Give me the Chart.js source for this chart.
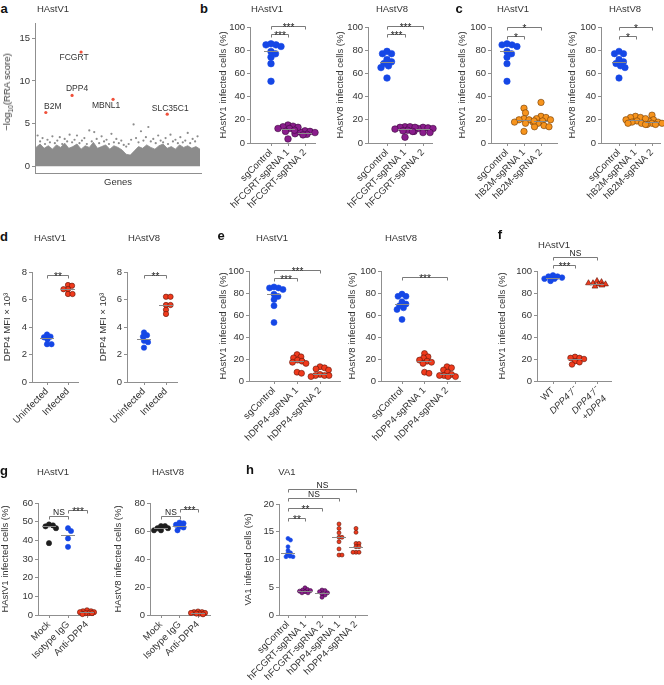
<!DOCTYPE html>
<html>
<head>
<meta charset="utf-8">
<script src="https://cdn.jsdelivr.net/npm/chart.js@4.4.0/dist/chart.umd.min.js"></script>
<style>
body { margin: 0; background: #fff; width: 664px; height: 685px; position: relative; overflow: hidden; font-family: 'Liberation Sans', Arial, sans-serif; color: #333; }
canvas { position: absolute; }
.t { position: absolute; white-space: nowrap; transform: translate(-50%, -50%); font-size: 9.5px; line-height: 10px; z-index: 2; }
.r { transform: translate(-50%, -50%) rotate(-90deg); }
.L { font-weight: bold; font-size: 13px; line-height: 14px; color: #111; }
sub, sup { font-size: 70%; line-height: 0; }
</style>
</head>
<body>
<script>
// --- data ---
const screenX = [0, 2.5, 5, 7.5, 10, 12.5, 15, 17.5, 20, 22.5, 25, 27.5, 30, 32.5, 35, 37.5, 40, 42.5, 45, 47.5, 50, 52.5, 55, 57.5, 60, 62.5, 65, 67.5, 70, 72.5, 75, 77.5, 80, 82.5, 85, 87.5, 90, 92.5, 95, 97.5, 100];
const screenBand = [2.2, 2.6, 2.1, 2.4, 2.0, 2.5, 2.2, 2.7, 2.1, 2.3, 2.6, 2.0, 2.4, 2.2, 2.8, 2.1, 2.3, 2.5, 2.0, 2.4, 2.2, 1.9, 1.4, 1.3, 1.8, 2.3, 2.1, 2.5, 2.2, 2.0, 2.4, 2.6, 2.1, 2.3, 2.0, 2.5, 2.2, 2.4, 2.1, 2.3, 2.0];
const sparseX = [1, 2.5, 4, 5.5, 7, 8.5, 10, 11.5, 13, 14.5, 16, 17.5, 19, 20.5, 22, 23.5, 25, 26.5, 28, 29.5, 31, 32.5, 34, 35.5, 37, 38.5, 40, 41.5, 43, 44.5, 46, 47.5, 49, 50.5, 52, 53.5, 55, 56.5, 58, 59.5, 61, 62.5, 64, 65.5, 67, 68.5, 70, 71.5, 73, 74.5, 76, 77.5, 79, 80.5, 82, 83.5, 85, 86.5, 88, 89.5, 91, 92.5, 94, 95.5, 97, 98.5];
const sparseY = [3.6, 2.9, 3.3, 2.6, 3.1, 2.8, 3.5, 2.7, 3.0, 3.4, 2.6, 3.2, 2.9, 3.7, 2.8, 3.1, 3.6, 2.7, 3.0, 3.3, 2.6, 4.2, 2.9, 4.0, 3.2, 2.7, 3.5, 2.9, 3.1, 2.6, 3.8, 2.8, 3.2, 2.7, 3.0, 2.5, 2.3, 2.6, 3.1, 4.9, 3.3, 2.8, 4.1, 3.0, 3.4, 4.6, 2.9, 3.2, 2.7, 3.6, 3.0, 2.8, 3.3, 2.6, 3.7, 2.9, 3.1, 2.7, 3.4, 2.8, 3.0, 3.9, 2.7, 3.2, 2.9, 3.5];
const hitNames = ['B2M', 'DPP4', 'FCGRT', 'MBNL1', 'SLC35C1'];
const hitX = [6, 22, 27.5, 47, 80];
const hitY = [6.3, 8.3, 13.4, 7.85, 6.1];

const fcgrtLabels = ['sgControl', 'hFCGRT-sgRNA 1', 'hFCGRT-sgRNA 2'];
const b2mLabels = ['sgControl', 'hB2M-sgRNA 1', 'hB2M-sgRNA 2'];
const dpp4Labels = ['sgControl', 'hDPP4-sgRNA 1', 'hDPP4-sgRNA 2'];
const infLabels = ['Uninfected', 'Infected'];
const koLabels = ['WT', 'DPP4⁻/⁻', ['DPP4⁻/⁻', '+DPP4']];
const abLabels = ['Mock', 'Isotype IgG', 'Anti-DPP4'];
const va1Labels = ['sgControl', 'hFCGRT-sgRNA 1', 'hFCGRT-sgRNA 2', 'hDPP4-sgRNA 1', 'hDPP4-sgRNA 2'];

const pctTicks = [0, 20, 40, 60, 80, 100];
const mfiTicks = [0, 2, 4, 6, 8];
const g1Ticks = [0, 10, 20, 30, 40, 50, 60];
const g2Ticks = [0, 20, 40, 60, 80];
const va1Ticks = [0, 5, 10, 15, 20];

const v1Control = [84.6, 84.6, 83.2, 85.5, 78.9, 76.9, 74, 68.4, 53.2];
const v8Control = [77, 77, 79, 68.5, 70, 72, 65, 66.5, 56];
const v1Fcgrt1 = [15.5, 14.5, 14, 13.5, 12.5, 12.5, 11, 10, 3.5];
const v1Fcgrt2 = [10.5, 10, 9.5, 9, 8, 7.5, 7];
const v8Fcgrt1 = [14, 14, 13.5, 13.5, 12, 11, 10.5, 10, 5];
const v8Fcgrt2 = [13.5, 13, 12.5, 12.5, 10, 9, 9];
const v1B2m1 = [30, 26, 21, 20, 20, 19, 18, 17, 10];
const v1B2m2 = [35, 23, 22, 21, 20, 19, 18, 17, 15, 14, 14];
const v8B2m1 = [23, 22, 22, 21, 20, 19, 18, 17, 17, 16];
const v8B2m2 = [24, 20, 19, 18, 18, 17, 17, 16, 16];
const v1Uninf = [3.45, 3.3, 3.25, 3.1, 2.75, 2.75];
const v1Inf = [7.05, 7.0, 6.75, 6.75, 6.4, 6.4];
const v8Uninf = [3.6, 3.4, 3.3, 3.0, 2.9, 2.5];
const v8Inf = [6.2, 6.2, 5.6, 5.6, 5.25, 4.95];
const v1Dpp41 = [24, 22, 21, 19, 18, 17, 16, 8, 7];
const v1Dpp42 = [13, 12, 11, 10, 6, 5, 5, 5, 4];
const v8Dpp41 = [25, 22, 21, 19, 18, 17, 16, 8, 7];
const v8Dpp42 = [13, 12, 10, 8, 6, 5, 5, 4, 4];
const koWT = [96, 95, 95, 94, 93, 93, 91];
const koKO = [22, 21, 21, 20, 18, 17, 15];
const koRescue = [91, 90, 89, 89, 88, 88, 87, 86];
const v1Mock = [48.5, 48, 47.5, 46.5, 38.5];
const v1Iso = [46.5, 45, 41, 36.5];
const v1Anti = [2.5, 2, 2, 1.5, 1.5, 1, 1, 1, 0.5];
const v8Mock = [63.5, 63.5, 62, 62, 60.5, 60.5];
const v8Iso = [66, 65.5, 64.5, 63, 62.5, 60.5];
const v8Anti = [2.5, 2, 2, 1.5, 1.5, 1, 1, 0.5];
const va1Control = [13.8, 13.5, 12.3, 11.6, 11.2, 11.0, 10.6, 10.5, 10.5];
const va1Fcgrt1 = [4.9, 4.6, 4.5, 4.4, 4.3, 4.2, 4.0, 4.0];
const va1Fcgrt2 = [4.5, 4.4, 4.2, 4.0, 3.8, 3.6, 3.2];
const va1Dpp41 = [16.4, 15.6, 14.8, 14.0, 14.0, 13.2, 11.9, 10.8, 10.8];
const va1Dpp42 = [15.6, 14.9, 12.9, 12.9, 12.3, 12.3, 11.3, 11.3, 11.3];

// significance bars: [from, to, height, label]
const bBars = [[0, 1, 94, '***'], [0, 2, 101, '***']];
const cBars = [[0, 1, 92.5, '*'], [0, 2, 100, '*']];
const dBars = [[0, 1, 7.8, '**']];
const e1Bars = [[0, 1, 93.5, '***'], [0, 2, 100.5, '***']];
const e2Bars = [[0, 2, 95, '***']];
const fBars = [[0, 1, 105, '***'], [0, 2, 113, 'NS']];
const g1Bars = [[0, 1, 52.8, 'NS'], [1, 2, 56, '***']];
const g2Bars = [[0, 1, 70.5, 'NS'], [1, 2, 76, '***']];
const hBars = [[0, 1, 17.5, '**'], [0, 2, 19.2, '**'], [0, 3, 21, 'NS'], [0, 4, 22.7, 'NS']];

const v1Title = 'HAstV1 infected cells (%)';
const v8Title = 'HAstV8 infected cells (%)';
const mfiTitle = 'DPP4 MFI × 10³';
const va1Title = 'VA1 infected cells (%)';

// --- style ---
const FONT = "'Liberation Sans', Arial, sans-serif";
const AXIS = '#8f8f8f';
const INK = '#333';
const BLUE = { fill: '#1547e6', edge: '#1547e6' };
const PURPLE = { fill: '#8a1d8c', edge: '#3b0a3c' };
const ORANGE = { fill: '#f7941d', edge: '#6d3a08' };
const RED = { fill: '#f03a1c', edge: '#5c1408' };
const BLACK = { fill: '#1e1e1e', edge: '#1e1e1e' };

function median(a) {
    const s = [...a].sort((p, q) => p - q);
    const m = s.length >> 1;
    return s.length % 2 ? s[m] : (s[m - 1] + s[m]) / 2;
}

// beeswarm offsets in px inside +-half, k = px per y unit, d = wanted spacing
function swarm(vals, k, d, half) {
    const order = vals.map((v, i) => i).sort((a, b) => vals[b] - vals[a]);
    const cands = [];
    for (let c = 0; c <= half; c += 0.5) { cands.push(c); if (c) cands.push(-c); }
    const placed = [];
    const out = new Array(vals.length).fill(0);
    order.forEach(i => {
        const y = vals[i] * k;
        let best = 0, score = -1;
        cands.forEach(c => {
            let m = d;
            placed.forEach(p => { m = Math.min(m, Math.hypot(c - p.x, y - p.y)); });
            if (m > score + 1e-6) { score = m; best = c; }
        });
        out[i] = best;
        placed.push({ x: best, y });
    });
    return out;
}

const marks = {
    id: 'marks',
    afterDatasetsDraw(chart, args, o) {
        const { ctx } = chart;
        const x = chart.scales.x, y = chart.scales.y;
        ctx.save();
        ctx.strokeStyle = '#8a8a8a';
        ctx.lineWidth = 1;
        (o.medians || []).forEach((m, i) => {
            const cx = x.getPixelForValue(i), py = Math.round(y.getPixelForValue(m)) + 0.5;
            ctx.beginPath(); ctx.moveTo(cx - o.mw, py); ctx.lineTo(cx + o.mw, py); ctx.stroke();
        });
        ctx.strokeStyle = '#7a7a7a';
        ctx.fillStyle = '#222';
        ctx.textAlign = 'center';
        ctx.textBaseline = 'alphabetic';
        (o.bars || []).forEach(([a, b, v, t]) => {
            const x0 = Math.round(x.getPixelForValue(a)) + 0.5;
            const x1 = Math.round(x.getPixelForValue(b)) + 0.5;
            const py = Math.round(y.getPixelForValue(v)) + 0.5;
            ctx.beginPath(); ctx.moveTo(x0, py + 3); ctx.lineTo(x0, py); ctx.lineTo(x1, py); ctx.lineTo(x1, py + 3); ctx.stroke();
            const star = t.includes('*');
            ctx.font = `${star ? 10 : 8.5}px ${FONT}`;
            ctx.fillText(t, (x0 + x1) / 2, star ? py + 4 : py - 1.5);
        });
        (o.notes || []).forEach(n => {
            ctx.font = `8.5px ${FONT}`;
            ctx.fillStyle = INK;
            ctx.textBaseline = 'middle';
            ctx.fillText(n.text, x.getPixelForValue(n.x) + n.dx, y.getPixelForValue(n.y) + n.dy);
        });
        if (o.title) {
            const a = chart.chartArea;
            ctx.translate(o.tx, (a.top + a.bottom) / 2);
            ctx.rotate(-Math.PI / 2);
            ctx.font = `9.5px ${FONT}`;
            ctx.fillStyle = INK;
            ctx.textBaseline = 'middle';
            ctx.fillText(o.title, 0, 0);
        }
        ctx.restore();
    }
};

function axisOpts(extra) {
    return Object.assign({
        grid: { display: true, drawOnChartArea: false, drawTicks: true, tickLength: 3, color: AXIS, lineWidth: 1 },
        border: { display: true, color: AXIS, width: 1 },
    }, extra);
}

function makeCanvas(left, top, width, height) {
    const cv = document.createElement('canvas');
    cv.width = width; cv.height = height;
    cv.style.left = left + 'px'; cv.style.top = top + 'px';
    cv.style.width = width + 'px'; cv.style.height = height + 'px';
    document.body.appendChild(cv);
    return cv;
}

// --- one dot-strip panel ---
function strip(s) {
    const xh = 90, padTop = s.padTop || 16, padRight = 6;
    const left = Math.min(s.ax - 30, s.tx - 8);
    const yw = s.ax - left;
    const top = Math.round(s.yTop - padTop);
    const width = s.right - left + padRight;
    const height = Math.round(s.yBot - top + xh);
    const cv = makeCanvas(left, top, width, height);
    const n = s.labels.length;
    const sx = (s.cN - s.c0) / (n - 1);
    const ky = (s.yBot - s.yTop) / (s.ymax - s.ymin);
    const datasets = s.groups.map((g, i) => {
        const off = swarm(g.values, ky, s.r * 1.5, s.half);
        return {
            data: g.values.map((v, k) => ({ x: i + off[k] / sx, y: v })),
            backgroundColor: g.color.fill,
            borderColor: g.color.edge,
            borderWidth: 0.6,
            pointRadius: g.shape === 'triangle' ? s.r + 0.6 : s.r,
            pointStyle: g.shape || 'circle',
            clip: false,
        };
    });
    new Chart(cv, {
        type: 'scatter',
        data: { datasets },
        plugins: [marks],
        options: {
            responsive: false, animation: false, devicePixelRatio: 1,
            layout: { padding: { top: padTop, right: padRight, left: 0, bottom: 0 }, autoPadding: false },
            plugins: {
                legend: { display: false }, tooltip: { enabled: false },
                marks: { medians: s.groups.map(g => median(g.values)), mw: 7, bars: s.bars, title: s.title, tx: s.tx - left },
            },
            scales: {
                x: axisOpts({
                    type: 'linear', bounds: 'data',
                    min: (s.ax - s.c0) / sx, max: (s.right - s.c0) / sx,
                    afterBuildTicks: sc => { sc.ticks = s.labels.map((l, i) => ({ value: i })); },
                    afterFit: sc => { sc.height = xh; sc.paddingLeft = 0; sc.paddingRight = 0; },
                    ticks: {
                        callback: (v, i) => s.labels[i], minRotation: 45, maxRotation: 45, autoSkip: false,
                        padding: 1, color: INK,
                        font: c => ({ family: FONT, size: 9.5, style: s.italicFrom != null && c.index >= s.italicFrom ? 'italic' : 'normal' }),
                    },
                }),
                y: axisOpts({
                    type: 'linear', bounds: 'data', min: s.ymin, max: s.ymax,
                    afterBuildTicks: sc => { sc.ticks = s.yticks.map(v => ({ value: v })); },
                    afterFit: sc => { sc.width = yw; sc.paddingTop = 0; sc.paddingBottom = 0; },
                    ticks: { padding: 2, color: INK, font: { family: FONT, size: 9.5 } },
                }),
            },
        },
    });
}

// --- panel a: screen ---
(function screen() {
    const ax = 35, right = 201, yTop = 23, yBot = 173, yw = 30, xh = 8;
    const left = ax - yw, top = yTop - 5;
    const cv = makeCanvas(left, top, right - left + 6, yBot - top + xh);
    new Chart(cv, {
        type: 'scatter',
        data: {
            datasets: [
                { type: 'line', data: screenX.map((x, i) => ({ x, y: screenBand[i] })), fill: 'origin', backgroundColor: '#8c8c8c', borderColor: '#8c8c8c', borderWidth: 0.8, pointRadius: 0, tension: 0 },
                { data: sparseX.map((x, i) => ({ x, y: sparseY[i] })), backgroundColor: '#8c8c8c', borderWidth: 0, pointRadius: 1.1 },
                { data: hitX.map((x, i) => ({ x, y: hitY[i] })), backgroundColor: '#f0503a', borderWidth: 0, pointRadius: 1.6 },
            ]
        },
        plugins: [marks],
        options: {
            responsive: false, animation: false, devicePixelRatio: 1,
            layout: { padding: { top: 5, right: 6, left: 0, bottom: 0 }, autoPadding: false },
            plugins: {
                legend: { display: false }, tooltip: { enabled: false },
                marks: {
                    notes: hitNames.map((t, i) => ({ text: t, x: hitX[i], y: hitY[i], dx: [7, 5, -7, -7, 3][i], dy: [-6, -7, 6, 6, -6][i] })),
                },
            },
            scales: {
                x: axisOpts({
                    type: 'linear', bounds: 'data', min: -0.6, max: 100.6,
                    grid: { display: false },
                    afterBuildTicks: sc => { sc.ticks = []; },
                    afterFit: sc => { sc.height = xh; sc.paddingLeft = 0; sc.paddingRight = 0; },
                    ticks: { display: false },
                }),
                y: axisOpts({
                    type: 'linear', bounds: 'data', min: -0.8, max: 16.8,
                    afterBuildTicks: sc => { sc.ticks = [0, 5, 10, 15].map(v => ({ value: v })); },
                    afterFit: sc => { sc.width = yw; sc.paddingTop = 0; sc.paddingBottom = 0; },
                    ticks: { padding: 2, color: INK, font: { family: FONT, size: 9.5 } },
                }),
            },
        },
    });
})();

// --- panels b-h ---
const top1 = { yTop: 26.5, yBot: 143.3, ymin: 0, ymax: 100, yticks: pctTicks, half: 10 };
strip(Object.assign({ ax: 250, right: 315, c0: 271, cN: 305, r: 3.3, labels: fcgrtLabels, bars: bBars, title: v1Title, tx: 223,
    groups: [{ values: v1Control, color: BLUE }, { values: v1Fcgrt1, color: PURPLE }, { values: v1Fcgrt2, color: PURPLE }] }, top1));
strip(Object.assign({ ax: 368, right: 432, c0: 387, cN: 423, r: 3.3, labels: fcgrtLabels, bars: bBars, title: v8Title, tx: 340,
    groups: [{ values: v8Control, color: BLUE }, { values: v8Fcgrt1, color: PURPLE }, { values: v8Fcgrt2, color: PURPLE }] }, top1));
strip(Object.assign({ ax: 491, right: 557, c0: 507, cN: 541, r: 3.2, labels: b2mLabels, bars: cBars, title: v1Title, tx: 462,
    groups: [{ values: v1Control, color: BLUE }, { values: v1B2m1, color: ORANGE }, { values: v1B2m2, color: ORANGE }] }, top1));
strip(Object.assign({ ax: 601, right: 660, c0: 619, cN: 652, r: 3.2, labels: b2mLabels, bars: cBars, title: v8Title, tx: 572,
    groups: [{ values: v8Control, color: BLUE }, { values: v8B2m1, color: ORANGE }, { values: v8B2m2, color: ORANGE }] }, top1));

const dRow = { yTop: 272, yBot: 382, ymin: 0, ymax: 8, yticks: mfiTicks, r: 2.7, half: 8, labels: infLabels, bars: dBars, title: mfiTitle };
strip(Object.assign({ ax: 32, right: 78, c0: 47, cN: 68, tx: 7, groups: [{ values: v1Uninf, color: BLUE }, { values: v1Inf, color: RED }] }, dRow));
strip(Object.assign({ ax: 127, right: 177, c0: 144, cN: 166, tx: 103, groups: [{ values: v8Uninf, color: BLUE }, { values: v8Inf, color: RED }] }, dRow));

const eRow = { yTop: 270.5, yBot: 381, ymin: 0, ymax: 100, yticks: pctTicks, r: 3.0, half: 10 };
strip(Object.assign({ ax: 249, right: 340, c0: 274, cN: 320, labels: dpp4Labels, bars: e1Bars, title: v1Title, tx: 223,
    groups: [{ values: v1Control, color: BLUE }, { values: v1Dpp41, color: RED }, { values: v1Dpp42, color: RED }] }, eRow));
strip(Object.assign({ ax: 381, right: 460, c0: 402, cN: 447, labels: dpp4Labels, bars: e2Bars, title: v8Title, tx: 352,
    groups: [{ values: v8Control, color: BLUE }, { values: v8Dpp41, color: RED }, { values: v8Dpp42, color: RED }] }, eRow));
strip(Object.assign({ ax: 537, right: 611, c0: 553, cN: 597, labels: koLabels, bars: fBars, padTop: 30, italicFrom: 1, title: v1Title, tx: 502,
    groups: [{ values: koWT, color: BLUE }, { values: koKO, color: RED }, { values: koRescue, color: RED, shape: 'triangle' }] }, eRow, { r: 2.8, half: 9 }));

const gRow = { yTop: 503.3, yBot: 615, ymin: 0, r: 2.6, half: 7, labels: abLabels };
strip(Object.assign({ ax: 38, right: 93, c0: 49, cN: 87, ymax: 60, yticks: g1Ticks, bars: g1Bars, title: v1Title, tx: 5,
    groups: [{ values: v1Mock, color: BLACK }, { values: v1Iso, color: BLUE }, { values: v1Anti, color: RED }] }, gRow));
strip(Object.assign({ ax: 150, right: 210, c0: 161, cN: 198, ymax: 80, yticks: g2Ticks, bars: g2Bars, title: v8Title, tx: 118,
    groups: [{ values: v8Mock, color: BLACK }, { values: v8Iso, color: BLUE }, { values: v8Anti, color: RED }] }, gRow));
strip({ ax: 279, right: 367, c0: 288, cN: 356, yTop: 504, yBot: 615, ymin: 0, ymax: 20, yticks: va1Ticks, r: 2.0, half: 7,
    labels: va1Labels, bars: hBars, padTop: 30, title: va1Title, tx: 248,
    groups: [{ values: va1Control, color: BLUE }, { values: va1Fcgrt1, color: PURPLE }, { values: va1Fcgrt2, color: PURPLE },
             { values: va1Dpp41, color: RED }, { values: va1Dpp42, color: RED }] });

// --- text ---
function txt(html, x, y, cls) {
    const d = document.createElement('div');
    d.className = 't ' + (cls || '');
    d.style.left = x + 'px';
    d.style.top = y + 'px';
    d.innerHTML = html;
    document.body.appendChild(d);
}
[['a', 4, 9], ['b', 204, 9], ['c', 459, 9], ['d', 4, 237], ['e', 221, 236], ['f', 500, 235], ['g', 4, 471], ['h', 250, 470]]
    .forEach(([t, x, y]) => txt(t, x, y, 'L'));
[['HAstV1', 53, 9], ['HAstV1', 267, 9], ['HAstV8', 392, 9], ['HAstV1', 513, 9], ['HAstV8', 625, 9],
 ['HAstV1', 50, 238], ['HAstV8', 144, 238], ['HAstV1', 272, 238], ['HAstV8', 401, 238], ['HAstV1', 554, 245],
 ['HAstV1', 53, 472], ['HAstV8', 168, 472], ['VA1', 287, 472], ['Genes', 118, 182]]
    .forEach(([t, x, y]) => txt(t, x, y));
txt('−log<sub>10</sub>(RRA score)', 7, 92, 'r');
</script>
</body>
</html>
